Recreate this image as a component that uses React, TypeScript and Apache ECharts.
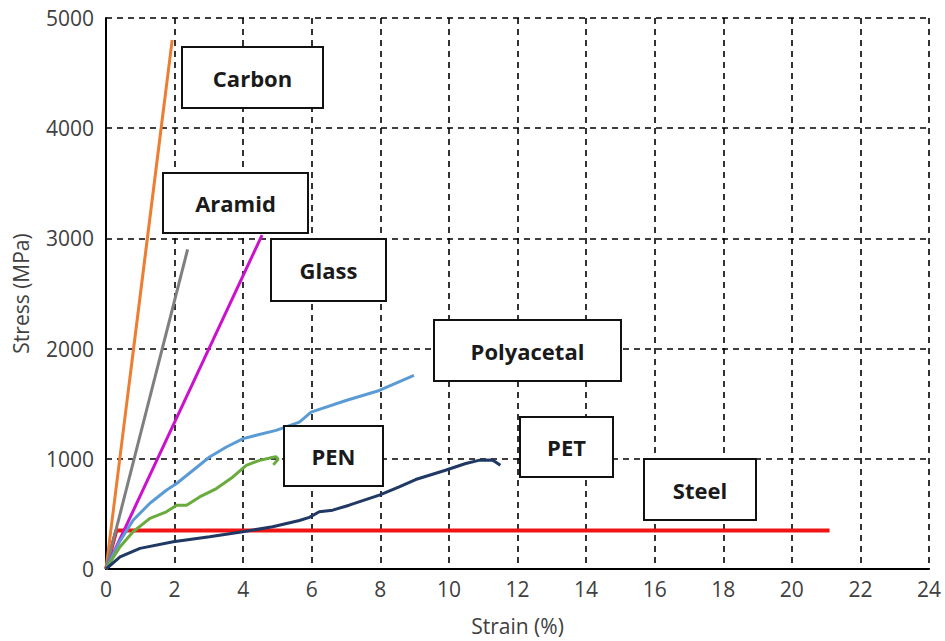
import React, { useEffect, useRef } from "react";
import * as echarts from "echarts";

// Stress–strain curves: [strain %, stress MPa]
const carbon: [number, number][] = [[0, 0], [1.93, 4800]];
const aramid: [number, number][] = [[0, 0], [2.38, 2900]];
const glass: [number, number][] = [[0, 0], [4.55, 3030]];
const steel: [number, number][] = [[0, 0], [0.3, 350], [21.1, 350]];
const polyacetal: [number, number][] = [
  [0, 0], [0.4, 250], [0.79, 443], [1.28, 597], [1.76, 715], [2.06, 776], [2.54, 896],
  [3.02, 1016], [3.51, 1107], [4.0, 1183], [4.38, 1213], [4.96, 1258], [5.64, 1333],
  [5.98, 1424], [7.0, 1529], [7.97, 1620], [8.98, 1756],
];
const pen: [number, number][] = [
  [0, 0], [0.41, 202], [0.79, 338], [1.28, 459], [1.76, 519], [2.06, 579], [2.35, 579],
  [2.73, 654], [3.22, 730], [3.7, 835], [4.09, 941], [4.48, 986], [4.75, 1005],
  [4.95, 1020], [5.02, 995], [4.88, 945],
];
const pet: [number, number][] = [
  [0, 0], [0.41, 111], [0.99, 187], [1.96, 247], [3.02, 292], [3.99, 338], [4.86, 383],
  [5.64, 440], [5.93, 468], [6.22, 519], [6.61, 534], [7.09, 579], [7.97, 670],
  [8.55, 745], [9.03, 812], [9.9, 896], [10.49, 957], [10.87, 986], [11.26, 990],
  [11.36, 971], [11.5, 941],
];

const seriesNames = ["Steel", "Carbon", "Aramid", "Glass", "Polyacetal", "PEN", "PET"];
const seriesData = [steel, carbon, aramid, glass, polyacetal, pen, pet];
const seriesColors = ["#f01414", "#ed7d31", "#7f7f7f", "#cc11cc", "#5b9bd5", "#6aab3e", "#1f3864"];
const seriesWidths = [4, 3, 3, 3, 3, 3, 3];

// Label boxes: name, left, top, width, height (px)
const boxes: [string, number, number, number, number][] = [
  ["Carbon", 182, 47, 141, 61],
  ["Aramid", 163, 173, 145, 60],
  ["Glass", 271, 239, 115, 62],
  ["Polyacetal", 434, 320, 187, 61],
  ["PEN", 284, 426, 99, 60],
  ["PET", 520, 417, 93, 60],
  ["Steel", 644, 459, 112, 61],
];

const FONT = "'Open Sans', 'Noto Sans', sans-serif";
const GRID_LINE = { color: "#000", width: 1.6, type: [6, 5] as number[] };

export default function App() {
  const ref = useRef<HTMLDivElement>(null);

  useEffect(() => {
    document.body.style.margin = "0";
    if (!ref.current) return;
    const chart = echarts.init(ref.current, undefined, { renderer: "svg" });

    const series = seriesNames.map((name, i) => ({
      name,
      type: "line",
      data: seriesData[i],
      showSymbol: false,
      symbol: "none",
      lineStyle: { color: seriesColors[i], width: seriesWidths[i] },
      z: 2 + i,
    }));

    const graphic = boxes.flatMap(([label, x, y, w, h]) => [
      {
        type: "rect",
        z: 100,
        shape: { x, y, width: w, height: h },
        style: { fill: "#fff", stroke: "#111", lineWidth: 2 },
      },
      {
        type: "text",
        z: 101,
        x: x + w / 2,
        y: y + h / 2,
        style: {
          text: label,
          fill: "#1a1a1a",
          font: `bold 22px ${FONT}`,
          align: "center",
          verticalAlign: "middle",
        },
      },
    ]);

    chart.setOption({
      animation: false,
      backgroundColor: "#fff",
      grid: { left: 106, right: 16, top: 18, bottom: 72 },
      xAxis: {
        type: "value",
        min: 0,
        max: 24,
        interval: 2,
        name: "Strain (%)",
        nameLocation: "middle",
        nameGap: 46,
        nameTextStyle: { color: "#404040", fontSize: 21, fontFamily: FONT },
        axisLine: { show: true, onZero: false, lineStyle: { color: "#000", width: 2 } },
        axisTick: { show: false },
        axisLabel: { color: "#404040", fontSize: 21, fontFamily: FONT, margin: 9 },
        splitLine: { show: true, lineStyle: GRID_LINE },
      },
      yAxis: {
        type: "value",
        min: 0,
        max: 5000,
        interval: 1000,
        name: "Stress (MPa)",
        nameLocation: "middle",
        nameGap: 75,
        nameTextStyle: { color: "#404040", fontSize: 21, fontFamily: FONT },
        axisLine: { show: true, onZero: false, lineStyle: { color: "#000", width: 2 } },
        axisTick: { show: false },
        axisLabel: {
          color: "#404040",
          fontSize: 21,
          fontFamily: FONT,
          margin: 12,
          formatter: (v: number) => String(v),
        },
        splitLine: { show: true, lineStyle: GRID_LINE },
      },
      series,
      graphic,
    });

    return () => chart.dispose();
  }, []);

  return <div ref={ref} style={{ width: 945, height: 641 }} />;
}
